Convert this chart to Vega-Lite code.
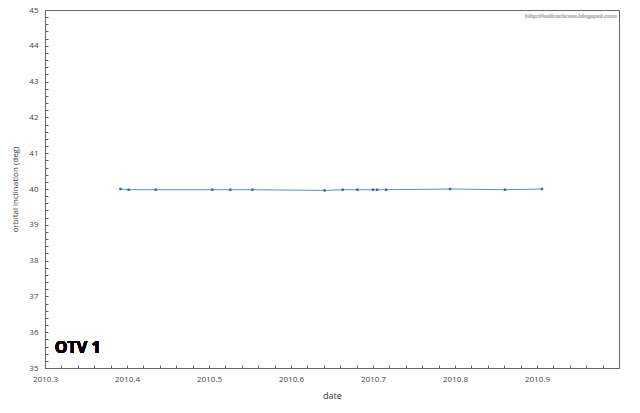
{
  "$schema": "https://vega.github.io/schema/vega-lite/v6.json",
  "width": 574,
  "height": 358,
  "autosize": {"type": "none"},
  "padding": {"left": 45, "top": 10, "right": 21, "bottom": 45},
  "background": "white",
  "config": {
    "view": {"stroke": "#666666", "strokeWidth": 1},
    "font": "Open Sans"
  },
  "data": {
    "values": [
      {"date": 2010.392, "incl": 40.0},
      {"date": 2010.402, "incl": 39.98},
      {"date": 2010.435, "incl": 39.98},
      {"date": 2010.504, "incl": 39.98},
      {"date": 2010.526, "incl": 39.98},
      {"date": 2010.553, "incl": 39.98},
      {"date": 2010.641, "incl": 39.96},
      {"date": 2010.663, "incl": 39.98},
      {"date": 2010.681, "incl": 39.98},
      {"date": 2010.700, "incl": 39.98},
      {"date": 2010.705, "incl": 39.98},
      {"date": 2010.716, "incl": 39.98},
      {"date": 2010.794, "incl": 40.0},
      {"date": 2010.861, "incl": 39.98},
      {"date": 2010.906, "incl": 40.0}
    ]
  },
  "encoding": {
    "x": {
      "field": "date", "type": "quantitative",
      "scale": {"domain": [2010.3, 2011.0], "nice": false, "zero": false},
      "axis": {
        "title": "date", "titleFont": "Open Sans", "titleFontSize": 9, "titleFontWeight": "normal", "titleColor": "#333333", "titlePadding": 8,
        "values": [2010.3,2010.32,2010.34,2010.36,2010.38,2010.4,2010.42,2010.44,2010.46,2010.48,2010.5,2010.52,2010.54,2010.56,2010.58,2010.6,2010.62,2010.64,2010.66,2010.68,2010.7,2010.72,2010.74,2010.76,2010.78,2010.8,2010.82,2010.84,2010.86,2010.88,2010.9,2010.92,2010.94,2010.96,2010.98],
        "labelExpr": "abs(datum.value*10 - round(datum.value*10)) < 0.001 ? format(datum.value, '.1f') : ''",
        "labelFont": "Open Sans", "labelFontSize": 8, "labelColor": "#444444", "labelPadding": 10, "labelFlush": false, "labelOverlap": false,
        "tickSize": -3, "tickColor": "#666666", "domainColor": "#666666", "grid": false
      }
    },
    "y": {
      "field": "incl", "type": "quantitative",
      "scale": {"domain": [35, 45], "nice": false, "zero": false},
      "axis": {
        "title": "orbital inclination (deg)", "titleFont": "Open Sans", "titleFontSize": 8, "titleFontWeight": "normal", "titleColor": "#333333", "titlePadding": 9,
        "values": [35,35.2,35.4,35.6,35.8,36,36.2,36.4,36.6,36.8,37,37.2,37.4,37.6,37.8,38,38.2,38.4,38.6,38.8,39,39.2,39.4,39.6,39.8,40,40.2,40.4,40.6,40.8,41,41.2,41.4,41.6,41.8,42,42.2,42.4,42.6,42.8,43,43.2,43.4,43.6,43.8,44,44.2,44.4,44.6,44.8,45],
        "labelExpr": "abs(datum.value - round(datum.value)) < 0.001 ? format(datum.value, 'd') : ''",
        "labelFont": "Open Sans", "labelFontSize": 8, "labelColor": "#444444", "labelPadding": 10, "labelOverlap": false,
        "tickSize": -3, "tickColor": "#666666", "domainColor": "#666666", "grid": false
      }
    }
  },
  "layer": [
    {"mark": {"type": "line", "color": "#5b8cc8", "strokeWidth": 1}},
    {"mark": {"type": "point", "shape": "square", "filled": true, "size": 6, "color": "#2e6bb5", "opacity": 1}},
    {
      "mark": {"type": "text", "text": "OTV 1", "font": "Open Sans", "fontWeight": "bold", "fontSize": 16, "align": "left", "baseline": "middle", "color": "#000000"},
      "encoding": {"x": {"datum": 2010.312}, "y": {"datum": 35.55}}
    },
    {
      "mark": {"type": "text", "text": "http://sattrackcam.blogspot.com", "font": "Open Sans", "fontSize": 6, "align": "right", "baseline": "middle", "color": "#c4c4c4"},
      "encoding": {"x": {"datum": 2010.997}, "y": {"datum": 44.83}}
    }
  ]
}
